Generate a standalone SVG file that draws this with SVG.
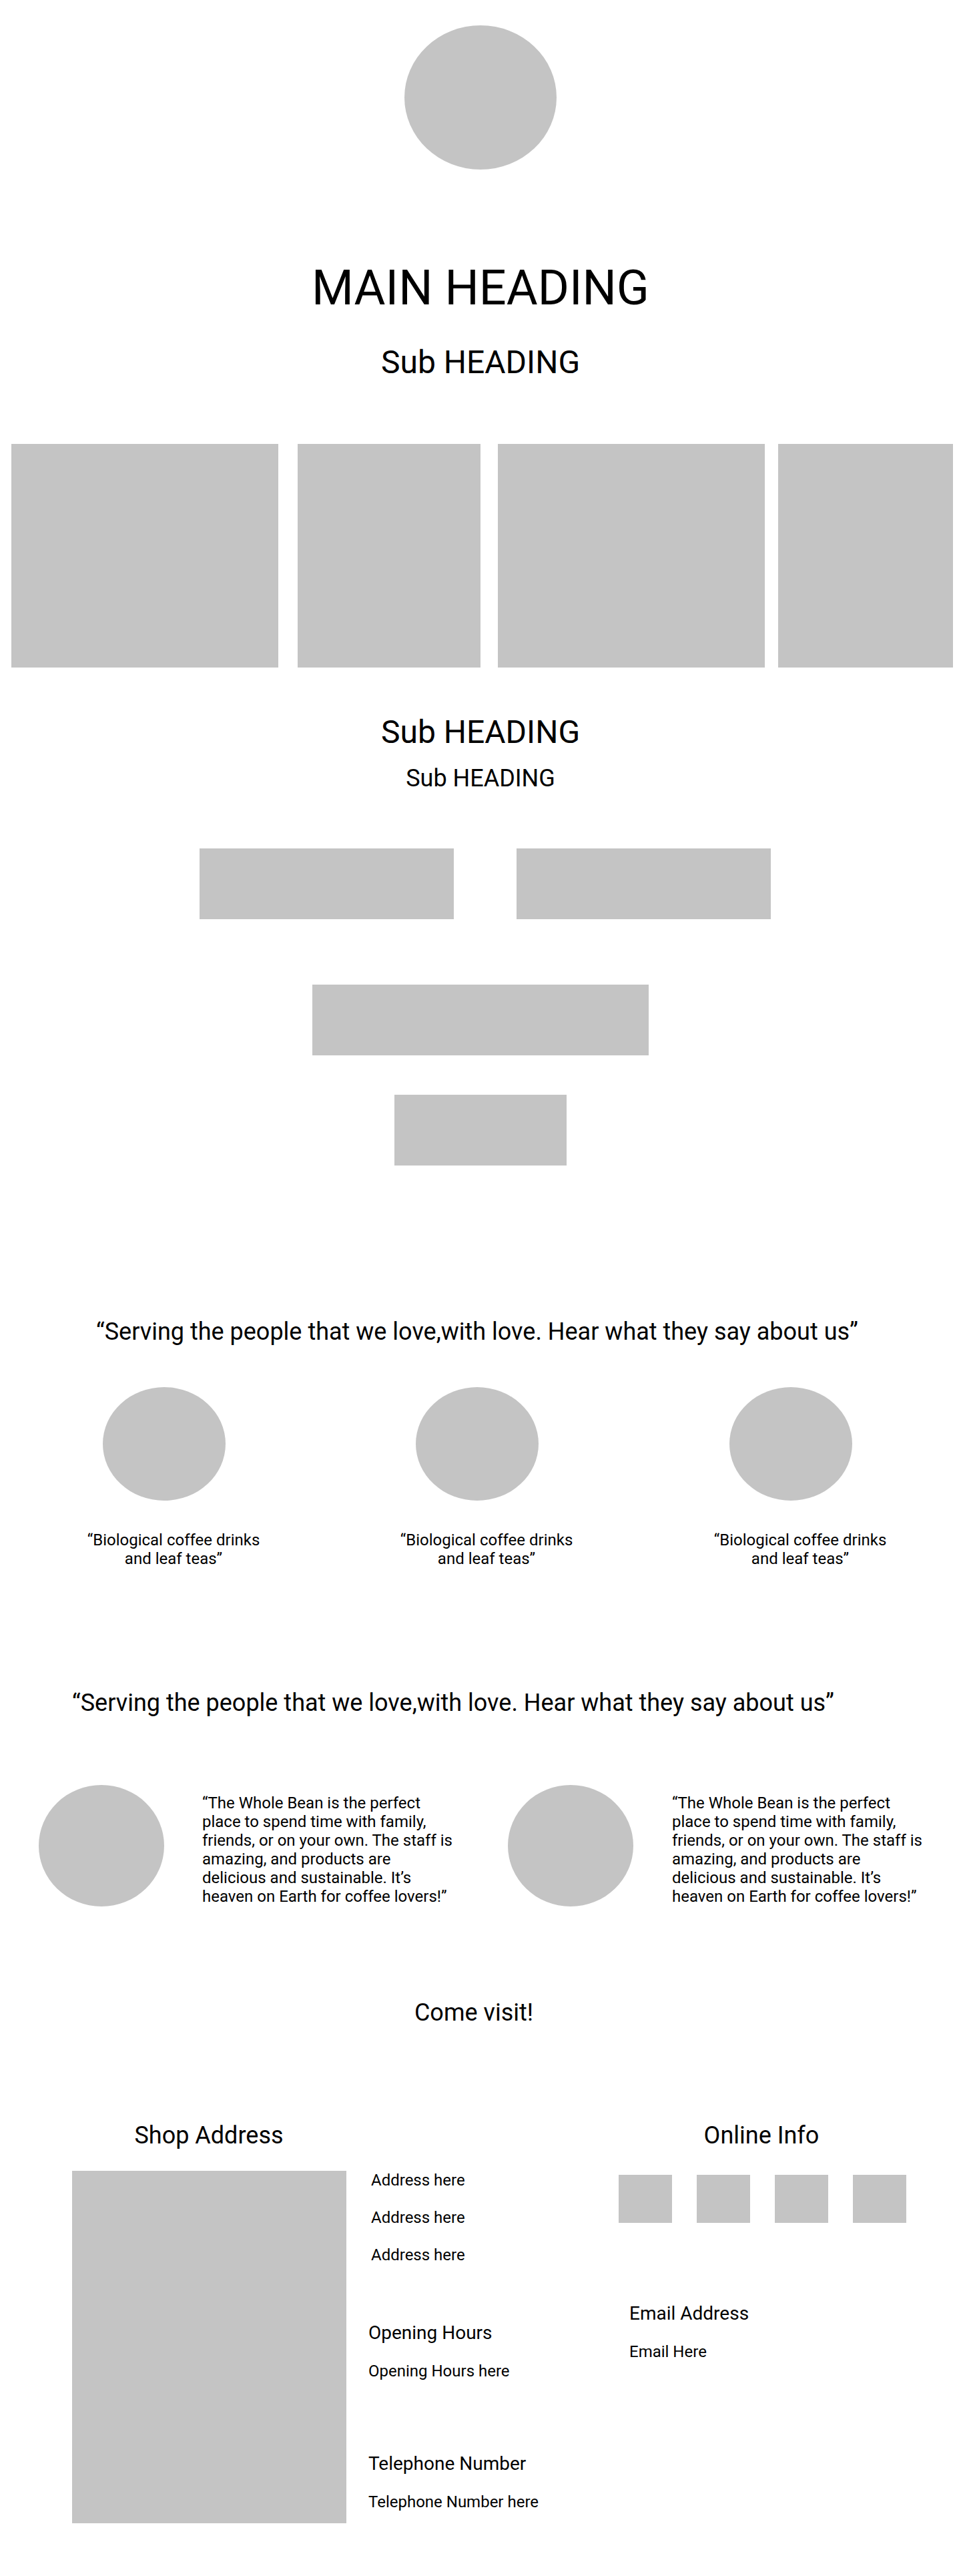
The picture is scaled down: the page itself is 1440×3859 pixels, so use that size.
<svg xmlns="http://www.w3.org/2000/svg" width="1440" height="3859" viewBox="0 0 1440 3859">
<style>
.ph{fill:#C4C4C4}
text{font-family:Roboto,"Liberation Sans",sans-serif;fill:#000}
.c{text-anchor:middle}
.f72{font-size:72px}.f48{font-size:48px}.f36{font-size:36px}.f28{font-size:28px}.f24{font-size:24px}
</style>
<rect width="1440" height="3859" fill="#fff"/>
<g id="logo"><ellipse class="ph" cx="720" cy="146" rx="114" ry="108"/></g>
<g id="hero">
<text class="c f72" x="720" y="456">MAIN HEADING</text>
<text class="c f48" x="720" y="559">Sub HEADING</text>
</g>
<g id="gallery">
<rect class="ph" x="17" y="665" width="400" height="335"/>
<rect class="ph" x="446" y="665" width="274" height="335"/>
<rect class="ph" x="746" y="665" width="400" height="335"/>
<rect class="ph" x="1166" y="665" width="262" height="335"/>
</g>
<g id="section2">
<text class="c f48" x="720" y="1113">Sub HEADING</text>
<text class="c f36" x="720" y="1178">Sub HEADING</text>
<rect class="ph" x="299" y="1271" width="381" height="106"/>
<rect class="ph" x="774" y="1271" width="381" height="106"/>
<rect class="ph" x="468" y="1475" width="504" height="106"/>
<rect class="ph" x="591" y="1640" width="258" height="106"/>
</g>
<g id="reviews1">
<text class="c f36" x="715" y="2007">“Serving the people that we love,with love. Hear what they say about us”</text>
<ellipse class="ph" cx="246" cy="2163" rx="92" ry="85"/>
<ellipse class="ph" cx="715" cy="2163" rx="92" ry="85"/>
<ellipse class="ph" cx="1185" cy="2163" rx="92" ry="85"/>
<text class="c f24" x="260" y="2315">“Biological coffee drinks</text>
<text class="c f24" x="260" y="2343">and leaf teas”</text>
<text class="c f24" x="729" y="2315">“Biological coffee drinks</text>
<text class="c f24" x="729" y="2343">and leaf teas”</text>
<text class="c f24" x="1199" y="2315">“Biological coffee drinks</text>
<text class="c f24" x="1199" y="2343">and leaf teas”</text>
</g>
<g id="reviews2">
<text class="f36" x="108" y="2563">“Serving the people that we love,with love. Hear what they say about us”</text>
<ellipse class="ph" cx="152" cy="2765" rx="94" ry="91"/>
<ellipse class="ph" cx="855" cy="2765" rx="94" ry="91"/>
<text class="f24" x="303" y="2709">“The Whole Bean is the perfect</text>
<text class="f24" x="303" y="2737">place to spend time with family,</text>
<text class="f24" x="303" y="2765">friends, or on your own. The staff is</text>
<text class="f24" x="303" y="2793">amazing, and products are</text>
<text class="f24" x="303" y="2821">delicious and sustainable. It’s</text>
<text class="f24" x="303" y="2849">heaven on Earth for coffee lovers!”</text>
<text class="f24" x="1007" y="2709">“The Whole Bean is the perfect</text>
<text class="f24" x="1007" y="2737">place to spend time with family,</text>
<text class="f24" x="1007" y="2765">friends, or on your own. The staff is</text>
<text class="f24" x="1007" y="2793">amazing, and products are</text>
<text class="f24" x="1007" y="2821">delicious and sustainable. It’s</text>
<text class="f24" x="1007" y="2849">heaven on Earth for coffee lovers!”</text>
</g>
<g id="visit"><text class="c f36" x="710" y="3027">Come visit!</text></g>
<g id="shop">
<text class="c f36" x="313" y="3211">Shop Address</text>
<rect class="ph" x="108" y="3252" width="411" height="528"/>
<text class="f24" x="556" y="3274">Address here</text>
<text class="f24" x="556" y="3330">Address here</text>
<text class="f24" x="556" y="3386">Address here</text>
<text class="f28" x="552" y="3504">Opening Hours</text>
<text class="f24" x="552" y="3560">Opening Hours here</text>
<text class="f28" x="552" y="3700">Telephone Number</text>
<text class="f24" x="552" y="3756">Telephone Number here</text>
</g>
<g id="online">
<text class="c f36" x="1141" y="3211">Online Info</text>
<rect class="ph" x="927" y="3258" width="80" height="72"/>
<rect class="ph" x="1044" y="3258" width="80" height="72"/>
<rect class="ph" x="1161" y="3258" width="80" height="72"/>
<rect class="ph" x="1278" y="3258" width="80" height="72"/>
<text class="f28" x="943" y="3475">Email Address</text>
<text class="f24" x="943" y="3531">Email Here</text>
</g>
<g id="connectors"/>
</svg>
